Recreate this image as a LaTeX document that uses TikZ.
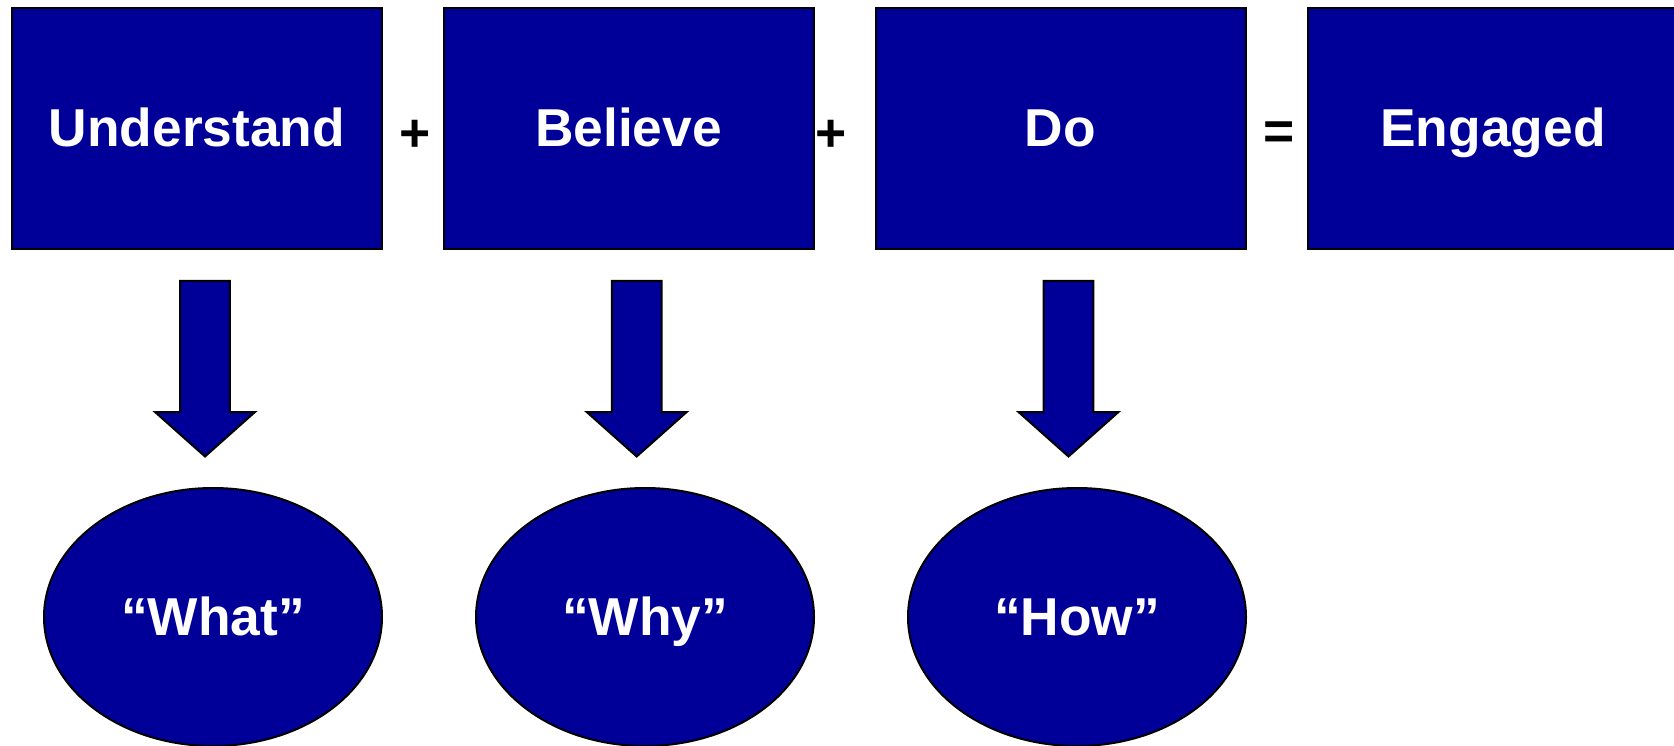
\documentclass[tikz,border=0pt]{standalone}
\usepackage{fontspec}
\setmainfont{Liberation Sans}
\usetikzlibrary{shapes.geometric}
\definecolor{boxblue}{HTML}{000099}
\begin{document}
\begin{tikzpicture}[x=0.6pt,y=-0.6pt,
  lbl/.style={text=white,font=\bfseries\fontsize{32}{38}\selectfont,text height=21.6pt,text depth=0pt},
  box/.style={lbl,draw=black,line width=1.2pt,fill=boxblue,minimum width=222pt,minimum height=144.6pt,inner sep=0pt},
  oval/.style={lbl,ellipse,draw=black,line width=1.2pt,fill=boxblue,minimum width=202.8pt,minimum height=154.8pt,inner sep=0pt},
  sym/.style={inner sep=0pt,font=\bfseries\fontsize{32}{38}\selectfont},
  downarrow/.style={draw=black,line width=1.2pt,fill=boxblue,line join=miter}]
\useasboundingbox (0,0) rectangle (1674,746);
\clip (0,0) rectangle (1674,746);
\node[box] (b1) at (197,128.5) {Understand};
\node[box] (b2) at (628.5,128.5) {Believe};
\node[box] (b3) at (1060.5,128.5) {Do};
\node[box] (b4) at (1493,128.5) {Engaged};
\node[sym] (p1) at (415,136) {+};
\node[sym] (p2) at (831,136) {+};
\node[sym] (eq) at (1279,136) {=};
\node[oval] (o1) at (213,617) {``What''};
\node[oval] (o2) at (645,617) {``Why''};
\node[oval] (o3) at (1077,617) {``How''};
\foreach \c in {205,636.7,1068.5}{
  \draw[downarrow] (\c-24.8,281) -- (\c+24.8,281) -- (\c+24.8,412) -- (\c+50,412)
    -- (\c,456.5) -- (\c-50,412) -- (\c-24.8,412) -- cycle;
}
\end{tikzpicture}
\end{document}
